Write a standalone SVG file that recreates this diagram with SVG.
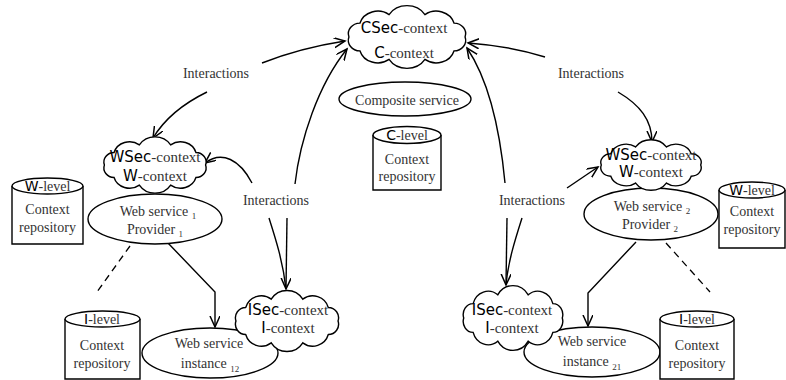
<svg xmlns="http://www.w3.org/2000/svg" xmlns:xlink="http://www.w3.org/1999/xlink" width="786" height="380" viewBox="0 0 786 380">
<style>
.sf{font-family:"Liberation Serif","Times New Roman",serif;font-size:14px;fill:#333}
.cm{font-family:"DejaVu Sans","Noto Sans",sans-serif;font-size:14px;fill:#000}
.cl .sf,.cl .cm{font-size:15px}
.shape{fill:#fff;stroke:#000;stroke-width:1.4}
.ln{fill:none;stroke:#000;stroke-width:1.4}
.dash{fill:none;stroke:#000;stroke-width:1.3;stroke-dasharray:7 5}
.arr{marker-end:url(#ah)}
</style>
<defs>
<marker id="ah" markerUnits="userSpaceOnUse" markerWidth="14" markerHeight="12" refX="11" refY="5" orient="auto" viewBox="0 0 14 12">
<path d="M0,0 L11,5 L0,10" fill="none" stroke="#000" stroke-width="1.5"/>
</marker>
<path id="cloud" vector-effect="non-scaling-stroke" d="M -44 0 A 9 9 0 0 1 -35.6 -11.8 A 14 14 0 0 1 -13.6 -19 A 16 16 0 0 1 13.6 -19 A 14 14 0 0 1 35.6 -11.8 A 9 9 0 0 1 44 0 A 9 9 0 0 1 35.6 11.8 A 14 14 0 0 1 13.6 19 A 16 16 0 0 1 -13.6 19 A 14 14 0 0 1 -35.6 11.8 A 9 9 0 0 1 -44 0 Z"/>
</defs>

<g id="connectors">
<path class="ln arr" d="M 262 63 Q 300 48 345 41"/>
<path class="ln arr" d="M 207 92 Q 170 110 153 138"/>
<path class="ln arr" d="M 295 184 C 300 140 318 85 347 49"/>
<path class="ln arr" d="M 287 218 L 286 289"/>
<path class="ln" d="M 269 218 C 276 240 283 262 286 289"/>
<path class="ln arr" d="M 252 183 C 240 160 222 150 205 163"/>
<path class="ln arr" d="M 545 57 Q 510 46 468 43"/>
<path class="ln arr" d="M 618 92 C 640 105 652 120 652 142"/>
<path class="ln arr" d="M 505 183 C 500 130 490 82 467 48"/>
<path class="ln arr" d="M 507 218 L 506 285"/>
<path class="ln" d="M 522 218 C 515 240 508 262 506 285"/>
<path class="ln arr" d="M 567 188 L 598 167"/>
<path class="ln arr" d="M 168 243 L 215 292 L 215 327"/>
<path class="ln arr" d="M 636 242 L 588 293 L 588 326"/>
<path class="dash" d="M 130 246 L 97 292"/>
<path class="dash" d="M 666 243 L 710 292"/>
<text class="sf" x="216" y="78" text-anchor="middle">Interactions</text>
<text class="sf" x="591" y="78" text-anchor="middle">Interactions</text>
<text class="sf" x="276" y="205" text-anchor="middle">Interactions</text>
<text class="sf" x="532" y="205" text-anchor="middle">Interactions</text>
</g>

<g id="composite">
<ellipse class="shape" cx="405" cy="99" rx="66" ry="17"/>
<text class="sf" x="407" y="105" text-anchor="middle">Composite service</text>
</g>

<g id="c-repo">
<path class="shape" d="M 373 135 L 373 190 L 441 190 L 441 135"/>
<ellipse class="shape" cx="407" cy="135" rx="34" ry="8.5"/>
<text x="407" y="140" text-anchor="middle"><tspan class="cm">C</tspan><tspan class="sf">-level</tspan></text>
<text class="sf" x="407" y="164" text-anchor="middle">Context</text>
<text class="sf" x="407" y="181" text-anchor="middle">repository</text>
</g>

<g id="csec" class="cl">
<use xlink:href="#cloud" class="shape" transform="translate(407,37) scale(1.32,1.18)"/>
<text x="404" y="33" text-anchor="middle"><tspan class="cm">CSec</tspan><tspan class="sf">-context</tspan></text>
<text x="404" y="58" text-anchor="middle"><tspan class="cm">C</tspan><tspan class="sf">-context</tspan></text>
</g>

<g id="provider1">
<ellipse class="shape" cx="155" cy="219" rx="67" ry="25"/>
<text class="sf" x="158" y="216" text-anchor="middle">Web service <tspan font-size="9" dy="3">1</tspan></text>
<text class="sf" x="155" y="234" text-anchor="middle">Provider <tspan font-size="9" dy="3">1</tspan></text>
</g>

<g id="wsec1" class="cl">
<use xlink:href="#cloud" class="shape" transform="translate(155,165) scale(1.15,1.06)"/>
<text x="155" y="162" text-anchor="middle"><tspan class="cm">WSec</tspan><tspan class="sf">-context</tspan></text>
<text x="155" y="181" text-anchor="middle"><tspan class="cm">W</tspan><tspan class="sf">-context</tspan></text>
</g>

<g id="w-repo1">
<path class="shape" d="M 12 186 L 12 244 L 83 244 L 83 186"/>
<ellipse class="shape" cx="47.5" cy="186" rx="35.5" ry="8"/>
<text x="47.5" y="191" text-anchor="middle"><tspan class="cm">W</tspan><tspan class="sf">-level</tspan></text>
<text class="sf" x="47.5" y="214" text-anchor="middle">Context</text>
<text class="sf" x="47.5" y="232" text-anchor="middle">repository</text>
</g>

<g id="provider2">
<ellipse class="shape" cx="651" cy="214" rx="67" ry="26"/>
<text class="sf" x="652" y="211" text-anchor="middle">Web service <tspan font-size="9" dy="3">2</tspan></text>
<text class="sf" x="650" y="229" text-anchor="middle">Provider <tspan font-size="9" dy="3">2</tspan></text>
</g>

<g id="wsec2" class="cl">
<use xlink:href="#cloud" class="shape" transform="translate(651,165) scale(1.13,0.95)"/>
<text x="651" y="160" text-anchor="middle"><tspan class="cm">WSec</tspan><tspan class="sf">-context</tspan></text>
<text x="651" y="177" text-anchor="middle"><tspan class="cm">W</tspan><tspan class="sf">-context</tspan></text>
</g>

<g id="w-repo2">
<path class="shape" d="M 719 190 L 719 248 L 785 248 L 785 190"/>
<ellipse class="shape" cx="752" cy="190" rx="33" ry="8"/>
<text x="752" y="195" text-anchor="middle"><tspan class="cm">W</tspan><tspan class="sf">-level</tspan></text>
<text class="sf" x="752" y="216" text-anchor="middle">Context</text>
<text class="sf" x="752" y="234" text-anchor="middle">repository</text>
</g>

<g id="instance12">
<ellipse class="shape" cx="210" cy="353" rx="68" ry="25"/>
<text class="sf" x="209" y="348" text-anchor="middle">Web service</text>
<text class="sf" x="210" y="368" text-anchor="middle">instance <tspan font-size="9" dy="4">12</tspan></text>
</g>

<g id="isec1" class="cl">
<use xlink:href="#cloud" class="shape" transform="translate(287,321) scale(1.16,1.15)"/>
<text x="288" y="315" text-anchor="middle"><tspan class="cm">ISec</tspan><tspan class="sf">-context</tspan></text>
<text x="288" y="333" text-anchor="middle"><tspan class="cm">I</tspan><tspan class="sf">-context</tspan></text>
</g>

<g id="i-repo1">
<path class="shape" d="M 65 319 L 65 379 L 140 379 L 140 319"/>
<ellipse class="shape" cx="102.5" cy="319" rx="37.5" ry="8"/>
<text x="102" y="324" text-anchor="middle"><tspan class="cm">I</tspan><tspan class="sf">-level</tspan></text>
<text class="sf" x="102" y="350" text-anchor="middle">Context</text>
<text class="sf" x="102" y="368" text-anchor="middle">repository</text>
</g>

<g id="instance21">
<ellipse class="shape" cx="592" cy="352" rx="68" ry="25"/>
<text class="sf" x="592" y="346" text-anchor="middle">Web service</text>
<text class="sf" x="592" y="366" text-anchor="middle">instance <tspan font-size="9" dy="4">21</tspan></text>
</g>

<g id="isec2" class="cl">
<use xlink:href="#cloud" class="shape" transform="translate(513,318) scale(1.12,1.22)"/>
<text x="512" y="315" text-anchor="middle"><tspan class="cm">ISec</tspan><tspan class="sf">-context</tspan></text>
<text x="512" y="333" text-anchor="middle"><tspan class="cm">I</tspan><tspan class="sf">-context</tspan></text>
</g>

<g id="i-repo2">
<path class="shape" d="M 660 319 L 660 379 L 734 379 L 734 319"/>
<ellipse class="shape" cx="697" cy="319" rx="37" ry="8"/>
<text x="697" y="324" text-anchor="middle"><tspan class="cm">I</tspan><tspan class="sf">-level</tspan></text>
<text class="sf" x="697" y="350" text-anchor="middle">Context</text>
<text class="sf" x="697" y="368" text-anchor="middle">repository</text>
</g>
</svg>
